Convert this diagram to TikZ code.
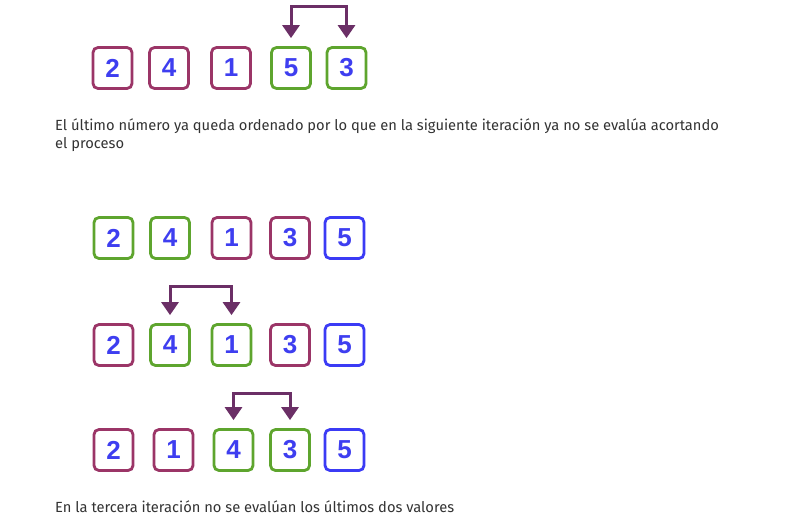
\documentclass[tikz,border=0pt]{standalone}
\usepackage{fontspec}
\setmainfont{Fira Sans}
\newfontfamily\digitfont{Liberation Sans}
\usetikzlibrary{arrows.meta}
\definecolor{boxpurple}{HTML}{9B3567}
\definecolor{boxgreen}{HTML}{5EA52E}
\definecolor{boxblue}{HTML}{3B3BF5}
\definecolor{digitblue}{HTML}{3E3EF0}
\definecolor{arrpurple}{HTML}{6B2F66}
\definecolor{txtgray}{HTML}{333333}
\tikzset{
  cell/.style={draw, line width=2.8pt, rounded corners=5pt, minimum width=39pt, minimum height=41pt,
    inner sep=0pt, text=digitblue, font=\digitfont\bfseries\fontsize{26}{26}\selectfont},
  pc/.style={cell, draw=boxpurple},
  gc/.style={cell, draw=boxgreen},
  bc/.style={cell, draw=boxblue},
  swaparrow/.style={arrpurple, line width=3pt, {Triangle[width=17pt,length=13pt]}-{Triangle[width=17pt,length=13pt]},
    shorten <=8pt, shorten >=8pt},
  para/.style={anchor=base west, text=txtgray, font=\fontsize{14.7}{20}\selectfont, inner sep=0pt}
}
\begin{document}
\begin{tikzpicture}[x=1pt,y=-1pt]
\useasboundingbox[fill=white] (0,0) rectangle (789,522);
% row 1
\node[pc] (r1a) at (112.5,68) {2};
\node[pc] (r1b) at (169,68) {4};
\node[pc] (r1c) at (231,68) {1};
\node[gc] (r1d) at (291,68) {5};
\node[gc] (r1e) at (346.5,68) {3};
\draw[swaparrow] (r1d.north) -- ++(0,-40) -| (r1e.north);
\node[para] (t1) at (55,130) {El último número ya queda ordenado por lo que en la siguiente iteración ya no se evalúa acortando};
\node[para] (t2) at (55,148) {el proceso};
% row 2
\node[gc] (r2a) at (113.5,238) {2};
\node[gc] (r2b) at (170,238) {4};
\node[pc] (r2c) at (231.5,238) {1};
\node[pc] (r2d) at (290,238) {3};
\node[bc] (r2e) at (344.5,238) {5};
% row 3
\node[pc] (r3a) at (113.5,345) {2};
\node[gc] (r3b) at (170,345) {4};
\node[gc] (r3c) at (231.5,345) {1};
\node[pc] (r3d) at (290,345) {3};
\node[bc] (r3e) at (344.5,345) {5};
\draw[swaparrow] (r3b.north) -- ++(0,-37) -| (r3c.north);
% row 4
\node[pc] (r4a) at (113.5,450) {2};
\node[pc] (r4b) at (173.5,450) {1};
\node[gc] (r4c) at (233.5,450) {4};
\node[gc] (r4d) at (290,450) {3};
\node[bc] (r4e) at (344.5,450) {5};
\draw[swaparrow] (r4c.north) -- ++(0,-35) -| (r4d.north);
\node[para] (t3) at (55,512) {En la tercera iteración no se evalúan los últimos dos valores};
\end{tikzpicture}
\end{document}
